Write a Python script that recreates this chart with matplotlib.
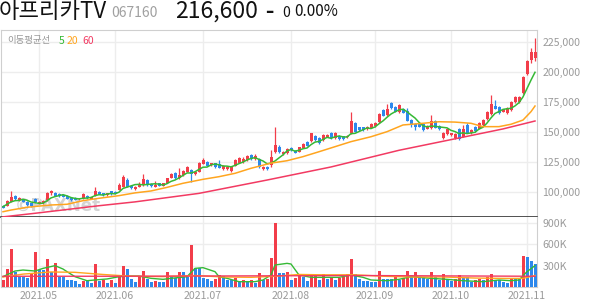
"""
AfreecaTV (067160) daily candles with moving averages and volume
"""

import numpy as np
import matplotlib.pyplot as plt
from matplotlib.ticker import FuncFormatter

plt.rcParams['font.family'] = ['Noto Sans CJK KR', 'DejaVu Sans']

# ------------------------------
# Data (prices in thousand KRW, volume in thousand shares)
# ------------------------------
open_ = [88.3, 88.3, 91.7, 96.7, 93.0, 93.3, 91.4, 90.3, 93.9, 90.0,
         90.3, 92.8, 98.6, 98.6, 98.3, 97.5, 96.7, 94.7, 94.9, 93.5,
         94.5, 96.5, 93.9, 96.7, 99.7, 98.6, 97.0, 100.3, 100.0, 101.4,
         104.2, 109.7, 105.0, 102.5, 104.0, 105.5, 109.7, 106.4, 104.2, 107.0,
         105.0, 107.5, 111.7, 115.3, 111.1, 113.9, 116.7, 118.1, 114.5, 116.7,
         123.3, 124.5, 122.2, 123.6, 123.0, 118.9, 118.5, 117.5, 121.4, 124.2,
         124.5, 126.2, 130.6, 127.0, 127.0, 118.6, 120.8, 122.2, 133.3, 137.5,
         131.2, 132.0, 136.7, 133.9, 133.3, 136.7, 141.2, 142.3, 146.4, 145.0,
         143.0, 145.8, 149.2, 144.5, 146.4, 146.2, 145.5, 149.2, 157.2, 153.6,
         153.6, 152.2, 153.3, 154.8, 157.8, 168.1, 163.7, 173.7, 170.8, 166.2,
         168.9, 167.3, 159.7, 156.1, 156.0, 156.1, 152.5, 152.8, 159.2, 154.8,
         144.5, 147.8, 147.2, 144.5, 152.5, 145.8, 155.6, 149.2, 153.7, 152.5,
         155.6, 160.3, 164.7, 171.4, 170.3, 166.7, 165.3, 168.1, 175.0, 175.0,
         182.0, 198.1, 209.7, 211.5]
high = [89.0, 93.0, 100.6, 97.5, 95.6, 94.0, 92.0, 90.8, 94.5, 92.5,
        93.0, 99.5, 101.5, 99.6, 99.0, 98.0, 97.0, 95.2, 95.3, 94.8,
        99.0, 97.5, 95.8, 103.5, 100.2, 99.0, 99.2, 100.8, 100.5, 107.0,
        113.5, 111.0, 105.5, 105.0, 108.0, 114.7, 110.5, 107.0, 108.9, 107.5,
        107.5, 111.8, 115.5, 116.0, 119.5, 118.2, 121.5, 119.0, 117.5, 124.5,
        127.8, 125.5, 124.2, 124.0, 126.0, 122.0, 121.5, 121.5, 127.0, 128.5,
        128.5, 130.5, 131.5, 131.0, 128.0, 121.5, 121.5, 134.7, 153.7, 139.0,
        134.0, 136.0, 137.5, 134.5, 137.6, 140.2, 142.0, 149.3, 147.5, 145.5,
        148.0, 148.2, 150.0, 149.8, 147.0, 146.8, 147.2, 166.4, 158.0, 154.3,
        154.2, 154.8, 157.0, 157.8, 165.2, 169.0, 172.8, 175.0, 171.5, 173.0,
        169.5, 169.5, 160.3, 157.0, 156.8, 156.8, 155.2, 163.9, 160.0, 155.5,
        150.0, 153.2, 149.3, 148.8, 153.3, 155.6, 157.0, 152.5, 154.4, 158.3,
        160.4, 167.5, 180.6, 176.4, 171.0, 169.3, 170.2, 175.8, 180.0, 179.5,
        196.5, 210.0, 219.5, 228.3]
low = [86.0, 87.8, 91.0, 92.8, 92.5, 91.0, 88.0, 87.5, 90.5, 89.5,
       90.0, 92.5, 97.5, 96.0, 95.5, 95.3, 93.5, 92.5, 92.7, 93.0,
       94.0, 94.3, 93.5, 96.2, 97.8, 96.5, 96.6, 97.6, 98.3, 101.0,
       103.5, 103.6, 102.3, 101.8, 103.5, 105.0, 105.0, 104.2, 103.8, 104.5,
       104.6, 107.0, 111.0, 110.5, 110.6, 113.3, 116.0, 108.3, 113.5, 116.0,
       122.8, 121.0, 121.8, 120.0, 119.5, 118.3, 118.0, 116.8, 121.0, 123.6,
       124.0, 125.8, 126.5, 126.5, 119.5, 118.0, 118.0, 120.3, 132.5, 132.5,
       130.5, 131.5, 134.0, 132.0, 132.8, 136.2, 137.8, 141.7, 142.5, 139.5,
       142.5, 145.2, 144.0, 144.0, 143.4, 143.0, 145.0, 148.4, 149.5, 150.8,
       150.5, 151.7, 152.8, 154.2, 157.2, 162.8, 163.0, 169.0, 166.0, 165.6,
       165.2, 158.5, 153.6, 151.4, 153.5, 150.8, 152.0, 152.3, 152.8, 151.5,
       143.5, 147.2, 146.6, 143.9, 143.0, 145.2, 148.7, 148.4, 150.0, 152.0,
       155.0, 159.7, 164.0, 168.5, 164.7, 166.0, 164.7, 167.5, 174.3, 174.3,
       181.2, 197.5, 207.0, 209.0]
close = [86.7, 92.2, 95.8, 93.7, 95.0, 91.4, 88.7, 88.3, 91.1, 91.7,
         92.2, 98.5, 100.3, 96.7, 96.0, 95.8, 93.9, 93.0, 93.1, 94.3,
         98.3, 94.8, 95.3, 100.6, 98.3, 97.0, 98.6, 98.1, 98.8, 105.6,
         112.5, 104.2, 103.0, 104.3, 106.5, 110.5, 105.5, 104.7, 105.6, 105.0,
         106.9, 111.1, 114.5, 111.1, 113.9, 117.5, 120.8, 114.5, 116.5, 123.6,
         126.4, 121.4, 123.6, 120.5, 120.0, 121.4, 120.8, 120.8, 126.4, 127.8,
         127.5, 129.7, 127.0, 130.0, 120.3, 120.8, 118.6, 129.2, 138.9, 133.3,
         133.3, 135.3, 134.5, 132.5, 137.0, 139.5, 138.3, 148.6, 143.0, 140.3,
         147.2, 147.5, 144.5, 149.0, 143.9, 143.7, 146.6, 158.9, 150.0, 151.4,
         151.0, 154.2, 156.2, 157.0, 164.5, 163.3, 169.2, 169.5, 166.7, 172.3,
         165.8, 159.2, 155.6, 154.2, 154.2, 151.4, 154.5, 159.0, 153.3, 152.0,
         149.2, 152.5, 148.6, 148.1, 143.6, 152.5, 149.2, 151.4, 150.6, 157.5,
         159.7, 166.7, 173.1, 169.2, 165.3, 168.6, 169.5, 175.0, 179.2, 178.5,
         195.8, 209.2, 216.7, 216.6]
volume = [98, 250, 530, 205, 140, 140, 130, 195, 490, 237,
          232, 390, 205, 335, 140, 140, 100, 93, 80, 42,
          80, 80, 56, 320, 84, 93, 56, 93, 51, 167,
          293, 250, 112, 70, 144, 223, 112, 70, 84, 70,
          70, 209, 140, 121, 209, 209, 140, 586, 265, 265,
          130, 112, 80, 112, 163, 153, 102, 93, 121, 80,
          98, 80, 93, 56, 195, 102, 112, 405, 893, 195,
          195, 209, 102, 121, 163, 140, 84, 163, 167, 98,
          177, 112, 130, 102, 121, 144, 177, 390, 177, 112,
          84, 80, 70, 70, 223, 112, 112, 112, 153, 102,
          121, 223, 163, 209, 140, 140, 112, 209, 144, 102,
          181, 93, 84, 112, 163, 140, 140, 70, 102, 112,
          93, 144, 181, 102, 102, 70, 56, 130, 130, 121,
          437, 423, 367, 326]

# moving averages
ma5 = [87.5, 89.5, 91.5, 92.5, 92.7, 93.6, 92.9, 91.4, 90.9, 90.2,
       90.4, 92.4, 94.8, 95.9, 96.7, 97.5, 96.5, 95.1, 94.4, 94.0,
       94.5, 94.7, 95.2, 96.7, 97.5, 97.2, 98.0, 98.5, 98.2, 99.6,
       102.7, 103.8, 104.8, 105.9, 106.1, 105.7, 106.0, 106.3, 106.6, 106.3,
       105.5, 106.7, 108.6, 109.7, 111.5, 113.6, 115.6, 115.6, 116.6, 118.6,
       120.4, 120.5, 122.3, 123.1, 122.4, 121.4, 121.3, 120.7, 121.9, 123.4,
       124.7, 126.4, 127.7, 128.4, 126.9, 125.6, 123.3, 123.8, 125.6, 128.2,
       130.7, 134.0, 135.1, 133.8, 134.5, 135.8, 136.4, 139.2, 141.3, 141.9,
       143.5, 145.3, 144.5, 145.7, 146.4, 145.7, 145.5, 148.4, 148.6, 150.1,
       151.6, 153.1, 152.6, 154.0, 156.6, 159.0, 162.0, 164.7, 166.6, 168.2,
       168.7, 166.7, 163.9, 161.4, 157.8, 154.9, 154.0, 154.7, 154.5, 154.0,
       153.6, 153.2, 151.1, 150.1, 148.4, 149.1, 148.4, 149.0, 149.5, 152.2,
       153.7, 157.2, 161.5, 165.2, 166.8, 168.6, 169.1, 169.5, 171.5, 174.2,
       179.0, 186.0, 193.0, 199.5]
ma20_idx = [0, 2, 6, 9, 12, 16, 20, 24, 29, 33, 37, 41, 45, 50, 54, 58, 62, 67,
            71, 75, 79, 83, 87, 92, 96, 100, 105, 109, 113, 117, 120, 124, 127,
            130, 132, 133]
ma20_val = [83.3, 84.7, 87.0, 88.0, 88.9, 89.5, 92.5, 94.5, 96.7, 99.0, 100.6,
            103.6, 107.0, 110.3, 112.5, 115.3, 119.5, 123.8, 125.8, 129.2, 133.3,
            137.5, 141.7, 145.8, 150.0, 155.6, 157.0, 158.3, 158.0, 157.0, 154.2,
            154.2, 156.2, 159.7, 166.7, 171.4]
ma60_idx = [0, 8, 24, 33, 49, 66, 82, 99, 117, 125, 133]
ma60_val = [79.0, 82.0, 88.3, 91.5, 98.6, 109.7, 120.6, 134.5, 146.8, 152.3,
            158.9]

vma5_idx = [0, 3, 5, 8, 10, 13, 15, 16, 18, 21, 23, 26, 29, 32, 34, 37, 40, 42,
            46, 48, 50, 53, 54, 56, 59, 63, 65, 67, 68, 71, 72, 74, 77, 81, 84,
            87, 90, 92, 96, 99, 102, 107, 111, 115, 120, 124, 127, 129, 131, 133]
vma5_val = [144, 223, 237, 223, 260, 298, 251, 214, 144, 88, 98, 112, 144, 153,
            153, 121, 107, 121, 144, 260, 270, 214, 144, 121, 74, 74, 98, 167,
            307, 330, 321, 167, 135, 135, 135, 167, 135, 98, 88, 107, 144, 121,
            107, 88, 74, 98, 88, 98, 214, 298]
vma20_idx = [0, 5, 12, 18, 25, 32, 40, 48, 55, 62, 68, 74, 80, 88, 95, 102,
             110, 118, 125, 130, 133]
vma20_val = [140, 180, 210, 205, 175, 150, 145, 160, 140, 135, 150, 175, 170,
             170, 150, 140, 140, 125, 120, 120, 160]
vma60_idx = [0, 30, 60, 90, 110, 133]
vma60_val = [150, 150, 155, 160, 155, 150]

month_idx = [9, 28, 50, 72, 93, 112, 131]
month_lbl = ['2021.05', '2021.06', '2021.07', '2021.08', '2021.09', '2021.10', '2021.11']
price_ticks = [100, 125, 150, 175, 200, 225]
vol_ticks = [300, 600, 900]

# ------------------------------
# Colours
# ------------------------------
RED = '#f23d4a'
BLUE = '#2d88ec'
GREEN = '#35b935'
ORANGE = '#ffa51f'
PINK = '#f23a62'
GRID = '#ededed'
LABEL = '#9a9a9a'

o = np.array(open_)
h = np.array(high)
l = np.array(low)
c = np.array(close)
v = np.array(volume)
x = np.arange(len(c))

W, H = 594, 304


def box(left, top, right, bottom):
    return [left / W, 1 - bottom / H, (right - left) / W, (bottom - top) / H]


fig = plt.figure(figsize=(W / 100, H / 100), dpi=100)
ax = fig.add_axes(box(1, 30, 537, 217))
axv = fig.add_axes(box(1, 217, 537, 287), sharex=ax)

# ------------------------------
# Price panel
# ------------------------------
cols = np.where(c >= o, RED, BLUE)
ax.vlines(x, l, h, colors=cols, lw=0.9, zorder=3)
ax.bar(x, np.abs(c - o), bottom=np.minimum(o, c), width=0.75, color=cols,
       lw=0, zorder=3)
ax.plot(x, ma5, color=GREEN, lw=1.1, zorder=4)
ax.plot(ma20_idx, ma20_val, color=ORANGE, lw=1.1, zorder=4)
ax.plot(ma60_idx, ma60_val, color=PINK, lw=1.1, zorder=4)

ax.text(0.026, 0.035, '©PAXNet', transform=ax.transAxes, fontsize=12,
        fontweight='bold', color='#d4d4d4', family='DejaVu Sans', zorder=1)

ax.set_xlim(-0.5, 133.5)
ax.set_ylim(78.9, 234.75)
ax.set_yticks(price_ticks)
ax.yaxis.set_major_formatter(FuncFormatter(lambda val, p: f'{val * 1000:,.0f}'))
ax.yaxis.tick_right()
ax.tick_params(axis='y', length=0, pad=4, labelsize=7.6, labelcolor=LABEL)
ax.set_xticks(month_idx)
ax.tick_params(axis='x', length=0, labelbottom=False)
ax.grid(color=GRID, lw=1, zorder=0)
for s in ['left', 'top', 'right']:
    ax.spines[s].set_color('#cfcfcf')
ax.spines['bottom'].set_color('#333333')
ax.spines['bottom'].set_linewidth(1.2)

# ------------------------------
# Volume panel
# ------------------------------
vcols = [RED] + [RED if v[i] > v[i - 1] else BLUE for i in range(1, len(v))]
axv.bar(x, v, width=0.75, color=vcols, lw=0, zorder=3)
axv.plot(vma5_idx, vma5_val, color=GREEN, lw=1.0, zorder=4)
axv.plot(vma20_idx, vma20_val, color=ORANGE, lw=1.0, zorder=4)
axv.plot(vma60_idx, vma60_val, color=PINK, lw=1.0, zorder=4)
axv.set_ylim(0, 977)
axv.set_yticks(vol_ticks)
axv.yaxis.set_major_formatter(FuncFormatter(lambda val, p: f'{val:.0f}K'))
axv.yaxis.tick_right()
axv.tick_params(axis='y', length=0, pad=4, labelsize=7.6, labelcolor=LABEL)
axv.set_xticks(month_idx)
axv.set_xticklabels(month_lbl)
axv.tick_params(axis='x', length=0, pad=3, labelsize=7.6, labelcolor=LABEL)
axv.grid(color=GRID, lw=1, zorder=0)
axv.spines['top'].set_visible(False)
for s in ['left', 'right', 'bottom']:
    axv.spines[s].set_color('#cfcfcf')

# ------------------------------
# Header and legend
# ------------------------------
def ftext(px, py, s, **kw):
    fig.text(px / W, 1 - py / H, s, va='center', ha='left', **kw)


ftext(-1, 11, '아프리카TV', fontsize=16, color='#111111')
ftext(111, 13, '067160', fontsize=10, color='#a0a0a0')
ftext(175, 11, '216,600', fontsize=16.5, color='#111111')
ftext(265, 12, '–', fontsize=12, fontweight='bold', color='#111111',
      family='DejaVu Sans')
ftext(282, 13, '0', fontsize=10, color='#111111')
ftext(294, 12, '0.00%', fontsize=11, color='#111111')

ftext(7, 41, '이동평균선', fontsize=6.8, color='#999999')
ftext(59, 41, '5', fontsize=7.5, color=GREEN)
ftext(67, 41, '20', fontsize=7.5, color=ORANGE)
ftext(82, 41, '60', fontsize=7.5, color=PINK)

fig.savefig('out.png', dpi=100)
